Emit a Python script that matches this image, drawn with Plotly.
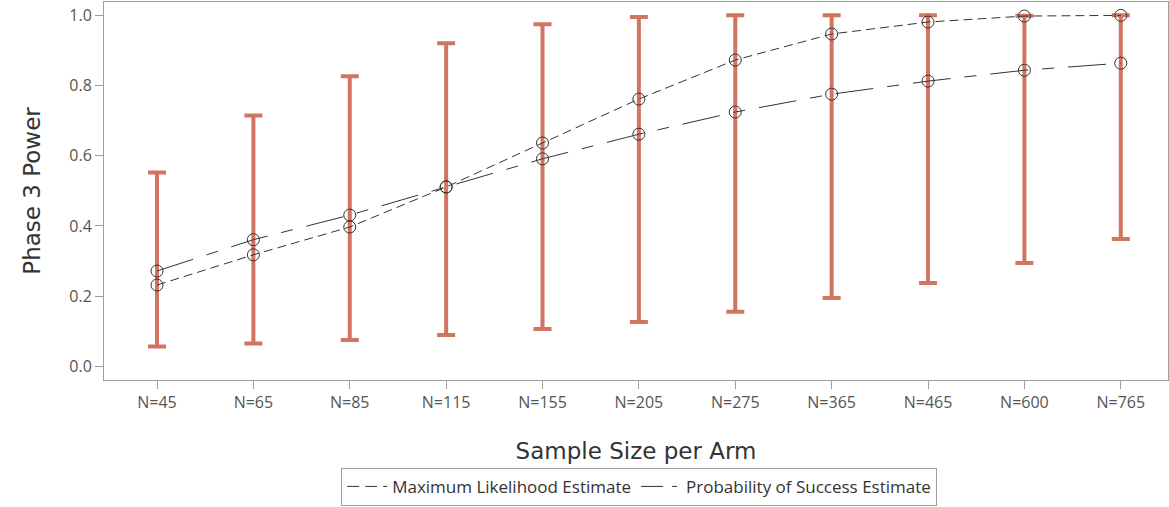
import plotly.graph_objects as go

categories = ["N=45", "N=65", "N=85", "N=115", "N=155", "N=205", "N=275", "N=365", "N=465", "N=600", "N=765"]
mle = [0.232, 0.318, 0.397, 0.511, 0.636, 0.761, 0.872, 0.946, 0.980, 0.997, 0.999]
pos = [0.272, 0.361, 0.431, 0.511, 0.591, 0.661, 0.724, 0.775, 0.812, 0.843, 0.863]
lower = [0.057, 0.066, 0.076, 0.090, 0.107, 0.127, 0.156, 0.195, 0.238, 0.295, 0.363]
upper = [0.552, 0.714, 0.826, 0.920, 0.974, 0.994, 0.999, 0.999, 0.999, 0.998, 0.999]

xi = list(range(len(categories)))
mid = [(a + b) / 2 for a, b in zip(lower, upper)]
half = [(b - a) / 2 for a, b in zip(lower, upper)]

bar_color = "#D27560"
line_color = "#333333"
axis_color = "#A89A9A"
text_color = "#555555"
tick_font = "Open Sans, Noto Sans, sans-serif"
title_font = "DejaVu Sans, Verdana, sans-serif"

fig = go.Figure()

fig.add_trace(go.Scatter(
    x=xi, y=mid, mode="markers", marker=dict(size=1, opacity=0),
    error_y=dict(type="data", array=half, symmetric=True, color=bar_color,
                 thickness=4, width=9),
    showlegend=False, hoverinfo="skip"))

fig.add_trace(go.Scatter(
    x=xi, y=mle, mode="lines+markers",
    line=dict(color=line_color, width=1, dash="9px,5px"),
    marker=dict(symbol="circle-open", size=12, color=line_color, line=dict(width=1)),
    showlegend=False))

fig.add_trace(go.Scatter(
    x=xi, y=pos, mode="lines+markers",
    line=dict(color=line_color, width=1, dash="38px,14px,12px,14px"),
    marker=dict(symbol="circle-open", size=12, color=line_color, line=dict(width=1)),
    showlegend=False))

fig.add_trace(go.Scatter(
    x=[None], y=[None], mode="lines", name="Maximum Likelihood Estimate",
    line=dict(color=line_color, width=1, dash="12px,6px")))
fig.add_trace(go.Scatter(
    x=[None], y=[None], mode="lines", name="Probability of Success Estimate",
    line=dict(color=line_color, width=1, dash="22px,9px,5px,9px")))

fig.update_layout(
    width=1169, height=507,
    margin=dict(l=104, r=1, t=2, b=127),
    plot_bgcolor="white", paper_bgcolor="white",
    font=dict(family=tick_font, color=text_color, size=16),
    xaxis=dict(
        tickmode="array", tickvals=xi, ticktext=categories,
        range=[-0.55, 10.49], showgrid=False, zeroline=False, automargin=False,
        showline=True, linecolor=axis_color, linewidth=1, mirror=True,
        ticks="outside", ticklen=8, tickcolor=axis_color,
        tickfont=dict(size=16, color=text_color),
        title=dict(text="Sample Size per Arm", font=dict(family=title_font, size=23, color="#333333"), standoff=30),
    ),
    yaxis=dict(
        range=[-0.038, 1.037], tickvals=[0, 0.2, 0.4, 0.6, 0.8, 1.0],
        tickformat=".1f", showgrid=False, zeroline=False, automargin=False,
        showline=True, linecolor=axis_color, linewidth=1, mirror=True,
        ticks="outside", ticklen=8, tickcolor=axis_color,
        tickfont=dict(size=16, color=text_color),
        title=dict(text="Phase 3 Power", font=dict(family=title_font, size=23, color="#333333"), standoff=22),
    ),
    legend=dict(
        orientation="h", x=0.503, xanchor="center", y=-0.333, yanchor="bottom",
        bordercolor=axis_color, borderwidth=1, bgcolor="white",
        font=dict(size=17, color="#333333"), itemwidth=40,
    ),
)

fig.write_html("out.html",
               config={"displayModeBar": False},
               post_script="document.body.style.margin='0';document.body.style.overflow='hidden';")
